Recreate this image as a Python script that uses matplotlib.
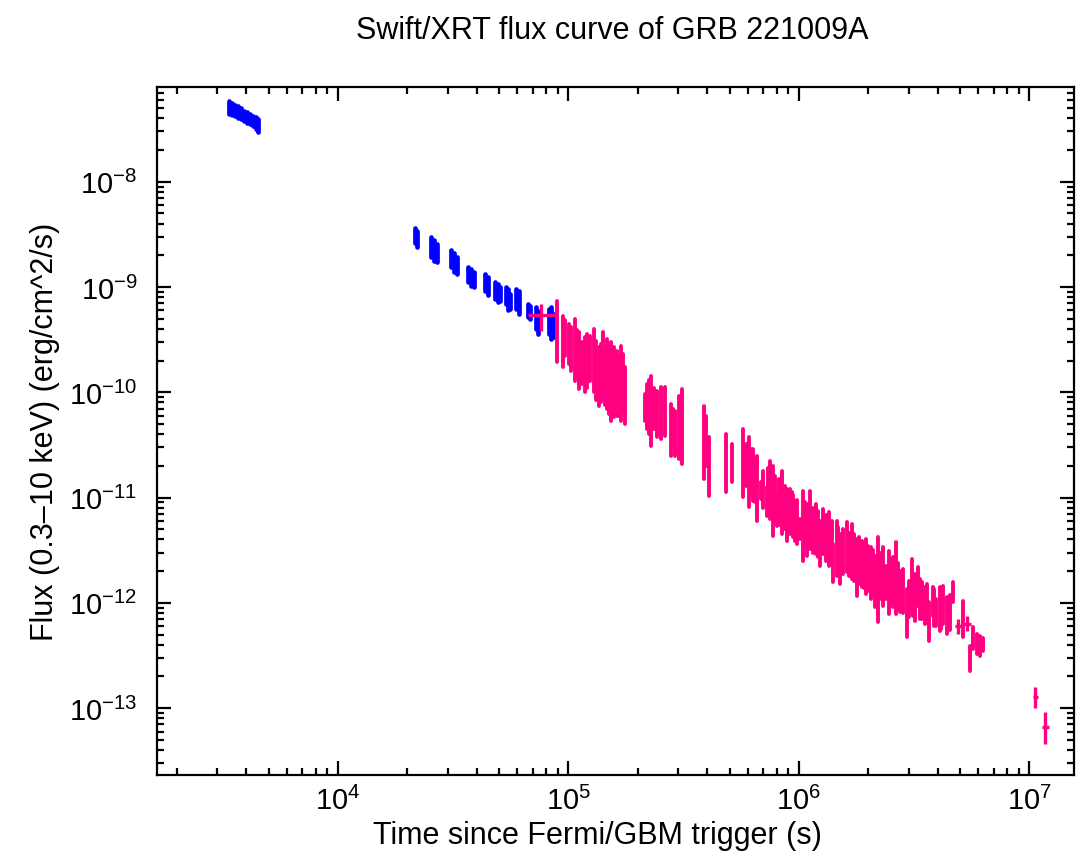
import numpy as np
import matplotlib
matplotlib.use('Agg')
import matplotlib.pyplot as plt
from matplotlib.ticker import FixedLocator, LogFormatterSciNotation

# Figure size (pixels at 100 dpi)
figW = 10.76
figH = 8.62

fontChoice = 'Liberation Sans'
fontSize = 22
tickFontSize = 21
lineWidth = 1.6

colourWT = '#0000ff'   # WT mode
colourPC = '#ff0080'   # PC mode
colourAxis = 'black'

plt.rcParams['font.family'] = [fontChoice, 'DejaVu Sans']
plt.rcParams['mathtext.default'] = 'regular'
plt.rcParams['axes.linewidth'] = lineWidth

# WT mode: time (s), lower / upper flux (erg/cm^2/s)
wt_t = [3366, 3468, 3573, 3683, 3795, 3910, 4029, 4152, 4278, 4409, 4520,
        21590, 22010,
        25320, 26100, 26760,
        30930, 31870, 32840,
        36640, 37760, 38900,
        43420, 44750,
        47990, 49440, 50700,
        53560, 54920, 56030,
        59180, 60980,
        66730, 68080,
        72280, 73740,
        82310, 84390, 86530]
wt_lo = [4.40e-8, 4.30e-8, 4.21e-8, 4.03e-8, 3.94e-8, 3.77e-8, 3.61e-8, 3.53e-8, 3.38e-8, 3.17e-8, 2.96e-8,
         2.62e-9, 2.40e-9,
         1.93e-9, 1.77e-9, 1.73e-9,
         1.55e-9, 1.39e-9, 1.33e-9,
         1.12e-9, 1.02e-9, 1.00e-9,
         9.16e-10, 8.39e-10,
         7.69e-10, 7.20e-10, 7.36e-10,
         6.89e-10, 6.05e-10, 6.18e-10,
         6.18e-10, 5.54e-10,
         5.19e-10, 4.97e-10,
         3.99e-10, 3.58e-10,
         3.58e-10, 3.21e-10, 3.35e-10]
wt_hi = [5.84e-8, 5.59e-8, 5.35e-8, 5.24e-8, 5.01e-8, 4.69e-8, 4.59e-8, 4.40e-8, 4.21e-8, 4.12e-8, 3.94e-8,
         3.63e-9, 3.40e-9,
         2.98e-9, 2.80e-9, 2.56e-9,
         2.25e-9, 2.10e-9, 1.93e-9,
         1.55e-9, 1.48e-9, 1.39e-9,
         1.33e-9, 1.24e-9,
         1.12e-9, 1.07e-9, 1.00e-9,
         1.00e-9, 9.57e-10, 8.58e-10,
         9.57e-10, 9.16e-10,
         6.89e-10, 6.60e-10,
         6.46e-10, 5.92e-10,
         6.18e-10, 6.46e-10, 5.54e-10]

# PC mode: time (s), lower / upper flux (erg/cm^2/s)
pc_t = [89200, 94400, 97000, 100200, 103000, 106400, 109000, 111400, 114500, 117600,
        120500, 124000, 129000, 132000, 135200, 138500, 141600, 144000, 146500, 149500,
        152500, 155000, 157500, 160000, 162800, 166000, 169500, 172500, 175300,
        215400, 219800, 223500, 228000, 235000, 242700, 251200, 263000, 277500, 284000,
        290600, 300700, 305500, 310700,
        387100, 395000, 405800,
        482300, 512100,
        569900, 605000, 633500, 659300, 682100, 724300, 748500, 768900, 800300, 843700,
        889600, 929700, 960700, 1.010e6, 1.044e6, 1.080e6, 1.116e6, 1.185e6, 1.233e6, 1.275e6,
        1.354e6, 1.409e6, 1.458e6, 1.507e6, 1.610e6, 1.693e6, 1.780e6, 1.871e6, 1.959e6, 2.047e6,
        2.136e6, 2.208e6, 2.307e6, 2.384e6, 2.450e6, 2.565e6, 2.636e6, 2.743e6, 2.933e6, 3.010e6,
        3.083e6, 3.186e6, 3.273e6, 3.406e6, 3.521e6, 3.676e6, 3.802e6, 3.930e6, 4.090e6, 4.227e6,
        4.399e6, 4.671e6, 5.162e6, 5.520e6, 5.705e6, 5.902e6, 6.099e6, 6.266e6]
pc_lo = [1.94e-10, 1.74e-10, 2.20e-10, 1.86e-10, 1.60e-10, 1.28e-10, 1.40e-10, 1.08e-10, 1.20e-10, 1.01e-10,
         1.10e-10, 1.28e-10, 1.01e-10, 8.50e-11, 7.41e-11, 8.00e-11, 9.23e-11, 7.50e-11, 6.94e-11, 6.20e-11,
         5.34e-11, 7.00e-11, 5.83e-11, 6.50e-11, 5.96e-11, 6.00e-11, 5.34e-11, 6.50e-11, 5.00e-11,
         5.34e-11, 4.48e-11, 4.00e-11, 3.09e-11, 4.50e-11, 3.76e-11, 3.60e-11, 3.85e-11, 2.48e-11, 3.00e-11,
         2.48e-11, 2.33e-11, 2.60e-11, 2.09e-11,
         1.50e-11, 2.00e-11, 1.04e-11,
         1.13e-11, 1.41e-11,
         1.01e-11, 8.14e-12, 9.28e-12, 5.99e-12, 9.70e-12, 6.69e-12, 6.26e-12, 4.32e-12, 5.37e-12, 4.51e-12,
         3.87e-12, 4.71e-12, 3.87e-12, 4.04e-12, 2.50e-12, 2.79e-12, 3.25e-12, 2.91e-12, 2.24e-12, 2.91e-12,
         2.24e-12, 1.58e-12, 1.80e-12, 1.51e-12, 1.97e-12, 1.69e-12, 1.16e-12, 1.42e-12, 1.21e-12, 1.09e-12,
         9.14e-13, 6.58e-13, 9.34e-13, 1.09e-12, 7.85e-13, 9.14e-13, 7.85e-13, 8.20e-13, 4.74e-13, 7.34e-13,
         8.75e-13, 6.73e-13, 9.34e-13, 7.03e-13, 6.30e-13, 4.35e-13, 7.51e-13, 6.03e-13, 5.41e-13, 6.30e-13,
         5.06e-13, 1.02e-12, 4.74e-13, 2.26e-13, 3.65e-13, 3.27e-13, 3.13e-13, 3.49e-13]
pc_hi = [7.36e-10, 5.34e-10, 4.90e-10, 4.45e-10, 4.20e-10, 4.97e-10, 3.90e-10, 3.74e-10, 3.00e-10, 3.35e-10,
         3.60e-10, 3.42e-10, 3.99e-10, 3.10e-10, 2.69e-10, 2.90e-10, 3.74e-10, 2.60e-10, 3.21e-10, 2.80e-10,
         3.00e-10, 2.40e-10, 2.69e-10, 2.30e-10, 2.47e-10, 2.20e-10, 2.75e-10, 2.30e-10, 1.74e-10,
         9.63e-11, 1.20e-10, 1.30e-10, 1.43e-10, 1.10e-10, 1.03e-10, 1.12e-10, 1.12e-10, 7.74e-11, 7.00e-11,
         6.65e-11, 9.23e-11, 8.50e-11, 1.08e-10,
         7.41e-11, 6.00e-11, 3.76e-11,
         4.02e-11, 3.23e-11,
         4.48e-11, 3.76e-11, 2.89e-11, 2.48e-11, 1.41e-11, 1.26e-11, 2.23e-11, 2.00e-11, 1.04e-11, 1.79e-11,
         1.21e-11, 1.13e-11, 9.28e-12, 6.26e-12, 1.16e-11, 8.69e-12, 1.16e-11, 8.69e-12, 5.99e-12, 7.79e-12,
         7.30e-12, 3.63e-12, 5.99e-12, 4.51e-12, 5.86e-12, 5.62e-12, 4.04e-12, 3.87e-12, 4.04e-12, 3.40e-12,
         2.79e-12, 4.22e-12, 3.40e-12, 2.24e-12, 3.11e-12, 2.73e-12, 3.79e-12, 2.01e-12, 1.36e-12, 1.61e-12,
         2.61e-12, 1.88e-12, 2.19e-12, 1.58e-12, 1.42e-12, 1.02e-12, 1.42e-12, 1.09e-12, 1.42e-12, 1.45e-12,
         1.14e-12, 1.58e-12, 1.04e-12, 3.90e-13, 5.90e-13, 5.06e-13, 4.85e-13, 4.64e-13]

# more PC bins inside the dense late-time band
pcb_t = [590000, 620000, 646000, 700000, 736000, 785000, 820000, 866000, 910000, 945000,
         985000, 1.062e6, 1.150e6, 1.210e6, 1.315e6, 1.385e6, 1.482e6, 1.560e6, 1.650e6, 1.735e6,
         1.825e6, 1.915e6, 2.000e6, 2.090e6, 2.260e6, 2.500e6, 2.690e6, 2.830e6, 3.130e6, 3.340e6,
         3.600e6, 3.860e6, 4.150e6, 4.530e6]
pcb_lo = [1.30e-11, 1.10e-11, 9.00e-12, 8.00e-12, 7.50e-12, 6.00e-12, 5.50e-12, 5.00e-12, 4.50e-12, 4.20e-12,
          3.60e-12, 3.40e-12, 3.00e-12, 2.70e-12, 2.50e-12, 2.30e-12, 2.00e-12, 1.90e-12, 1.80e-12, 1.60e-12,
          1.50e-12, 1.40e-12, 1.30e-12, 1.20e-12, 1.10e-12, 9.50e-13, 8.80e-13, 8.00e-13, 7.50e-13, 7.00e-13,
          6.50e-13, 6.00e-13, 5.60e-13, 5.50e-13]
pcb_hi = [3.20e-11, 2.90e-11, 2.20e-11, 1.80e-11, 1.90e-11, 1.60e-11, 1.50e-11, 1.30e-11, 1.20e-11, 1.05e-11,
          9.50e-12, 9.00e-12, 8.00e-12, 7.50e-12, 6.80e-12, 6.00e-12, 5.30e-12, 5.00e-12, 4.60e-12, 4.50e-12,
          4.20e-12, 3.80e-12, 3.50e-12, 3.20e-12, 3.00e-12, 2.60e-12, 2.40e-12, 2.10e-12, 1.90e-12, 1.70e-12,
          1.50e-12, 1.35e-12, 1.25e-12, 1.20e-12]

# PC mode points with visible time bins
bin_t = [75960, 4.912e6, 5.373e6, 1.060e7, 1.168e7]
bin_tlo = [66730, 4.752e6, 5.197e6, 1.033e7, 1.129e7]
bin_thi = [88290, 5.096e6, 5.574e6, 1.092e7, 1.218e7]
bin_f = [5.42e-10, 6.03e-13, 6.30e-13, 1.28e-13, 6.67e-14]
bin_flo = [3.82e-10, 5.06e-13, 5.41e-13, 1.00e-13, 4.57e-14]
bin_fhi = [6.89e-10, 7.03e-13, 7.51e-13, 1.59e-13, 9.20e-14]

# labelled decades
x_major = [1e4, 1e5, 1e6, 1e7]
y_major = [1e-13, 1e-12, 1e-11, 1e-10, 1e-9, 1e-8]

fig = plt.figure(figsize=(figW, figH), dpi=100)
ax = fig.add_axes([157/1076, 86/862, 917/1076, 688/862])

lc = ax.vlines(wt_t, wt_lo, wt_hi, color=colourWT, linewidth=3.4)
lc.set_capstyle('round')
lc = ax.vlines(pc_t, pc_lo, pc_hi, color=colourPC, linewidth=2.8)
lc.set_capstyle('round')
lc = ax.vlines(pcb_t, pcb_lo, pcb_hi, color=colourPC, linewidth=2.8)
lc.set_capstyle('round')

bt = np.array(bin_t)
bf = np.array(bin_f)
xerr = [bt - np.array(bin_tlo), np.array(bin_thi) - bt]
yerr = [bf - np.array(bin_flo), np.array(bin_fhi) - bf]
ax.errorbar(bt, bf, xerr=xerr, yerr=yerr, fmt='none', ecolor=colourPC,
            elinewidth=2.4, capsize=0)

ax.set_xscale('log')
ax.set_yscale('log')
ax.set_xlim(1640, 1.56e7)
ax.set_ylim(2.32e-14, 7.93e-8)
ax.xaxis.set_major_locator(FixedLocator(x_major))
ax.yaxis.set_major_locator(FixedLocator(y_major))
ax.xaxis.set_major_formatter(LogFormatterSciNotation())
ax.yaxis.set_major_formatter(LogFormatterSciNotation())

ax.tick_params(which='both', direction='in', top=True, right=True,
               width=lineWidth, color=colourAxis, labelsize=tickFontSize)
ax.tick_params(which='major', length=10, pad=8)
ax.tick_params(which='minor', length=5)
ax.tick_params(axis='y', which='major', pad=14)

fig.text(612/1076, 1 - 31/862, 'Swift/XRT flux curve of GRB 221009A',
         ha='center', va='center', fontsize=fontSize)
fig.text(597/1076, 1 - 836/862, 'Time since Fermi/GBM trigger (s)',
         ha='center', va='center', fontsize=fontSize)
fig.text(45/1076, 1 - 432/862, 'Flux (0.3\u201310 keV) (erg/cm^2/s)',
         ha='center', va='center', rotation=90, fontsize=fontSize)

fig.savefig('out.png', dpi=100)
